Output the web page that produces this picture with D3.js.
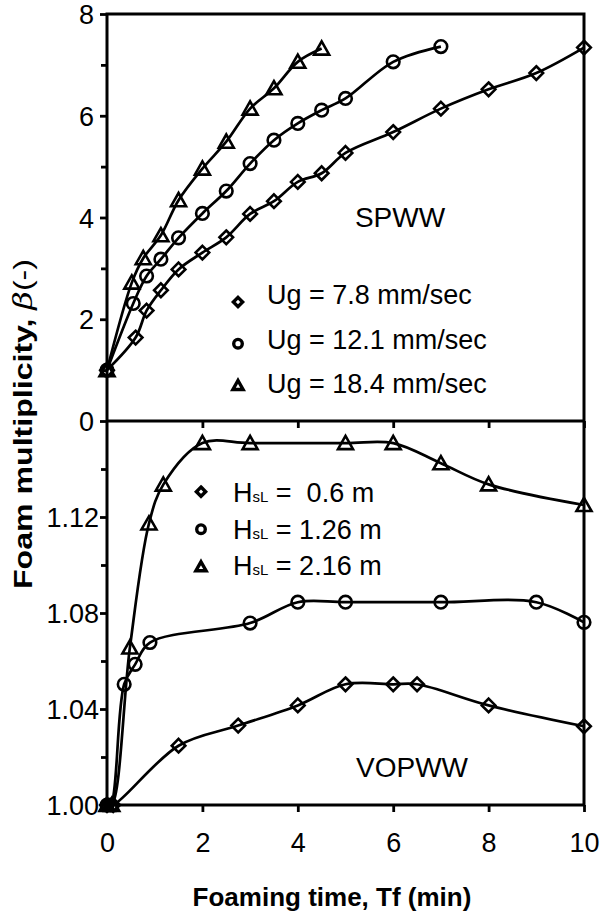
<!DOCTYPE html>
<html>
<head>
<meta charset="utf-8">
<script src="https://cdn.jsdelivr.net/npm/d3@7"></script>
<style>
body { margin: 0; background: #fff; }
svg text { font-family: "Liberation Sans", Arial, sans-serif; fill: #000; white-space: pre; }
.axe text { font-size: 27px; font-family: "Liberation Sans", Arial, sans-serif; }
.axe line { stroke: #000; stroke-width: 2.8; }
</style>
</head>
<body>
<div id="graphe"></div>
<script>
// données (panneau du haut : SPWW)
let tempsUg78 = [0, 0.6, 0.83, 1.13, 1.5, 2, 2.5, 3, 3.5, 4, 4.5, 5, 6, 7, 8, 9, 10];
let betaUg78 = [1.0, 1.64, 2.17, 2.57, 2.98, 3.31, 3.61, 4.07, 4.32, 4.70, 4.87, 5.27, 5.68, 6.14, 6.52, 6.84, 7.34];

let tempsUg121 = [0, 0.55, 0.83, 1.13, 1.5, 2, 2.5, 3, 3.5, 4, 4.5, 5, 6, 7];
let betaUg121 = [1.0, 2.31, 2.85, 3.18, 3.6, 4.08, 4.52, 5.06, 5.52, 5.85, 6.11, 6.34, 7.06, 7.36];

let tempsUg184 = [0, 0.52, 0.76, 1.13, 1.5, 2, 2.5, 3, 3.5, 4, 4.5];
let betaUg184 = [1.0, 2.72, 3.2, 3.65, 4.34, 4.96, 5.49, 6.14, 6.54, 7.06, 7.32];

// panneau du bas : VOPWW
let tempsH06 = [0, 0.13, 1.5, 2.75, 4, 5, 6, 6.5, 8, 10];
let betaH06 = [1.0, 1.0, 1.0247, 1.0331, 1.0415, 1.0503, 1.0503, 1.0503, 1.0415, 1.0328];

let tempsH126 = [0, 0.08, 0.36, 0.59, 0.9, 3, 4, 5, 7, 9, 10];
let betaH126 = [1.0, 1.0, 1.0503, 1.0586, 1.0677, 1.0758, 1.0845, 1.0845, 1.0845, 1.0845, 1.0761];

let tempsH216 = [0, 0.1, 0.48, 0.88, 1.18, 2, 3, 5, 6, 7, 8, 10];
let betaH216 = [1.0, 1.0, 1.0656, 1.1173, 1.1335, 1.1508, 1.1508, 1.1508, 1.1508, 1.1424, 1.1336, 1.125];

let ticksX = [0, 2, 4, 6, 8, 10];
let ticksHaut = [0, 2, 4, 6, 8];
let ticksHautMineurs = [1, 3, 5, 7];
let ticksBas = [1.00, 1.04, 1.08, 1.12];
let ticksBasMineurs = [1.02, 1.06, 1.10, 1.14];

let legendeHaut = ["Ug = 7.8 mm/sec", "Ug = 12.1 mm/sec", "Ug = 18.4 mm/sec"];
let legendeBas = [" =  0.6 m", " = 1.26 m", " = 2.16 m"];

// échelles
let x = d3.scaleLinear().domain([0, 10]).range([107, 584]);
let yHaut = d3.scaleLinear().domain([0, 8]).range([421, 14]);
let yBas = d3.scaleLinear().domain([1.0, 1.16]).range([805, 421]);

let svg = d3.select('#graphe')
    .append('svg')
    .attr("width", 601)
    .attr("height", 915)

function zipper(xs, ys) {
    return xs.map(function (t, i) { return [t, ys[i]] });
}

let series = [
    { pts: zipper(tempsUg78, betaUg78), forme: "losange", y: yHaut },
    { pts: zipper(tempsUg121, betaUg121), forme: "cercle", y: yHaut },
    { pts: zipper(tempsUg184, betaUg184), forme: "triangle", y: yHaut },
    { pts: zipper(tempsH06, betaH06), forme: "losange", y: yBas },
    { pts: zipper(tempsH126, betaH126), forme: "cercle", y: yBas },
    { pts: zipper(tempsH216, betaH216), forme: "triangle", y: yBas }
];

function marqueur(forme, k) {
    if (forme == "losange") {
        let s = 6.8 * k;
        return "M0," + (-s) + "L" + s + ",0L0," + s + "L" + (-s) + ",0Z";
    }
    if (forme == "cercle") {
        let r = 6.3 * k;
        return "M" + r + ",0A" + r + "," + r + " 0 1,1 " + (-r) + ",0A" + r + "," + r + " 0 1,1 " + r + ",0Z";
    }
    let w = 7.5 * k, h1 = 7.2 * k, h2 = 6 * k;
    return "M0," + (-h1) + "L" + w + "," + h2 + "L" + (-w) + "," + h2 + "Z";
}

// courbes lissées + marqueurs
series.forEach(function (s) {
    let ligne = d3.line()
        .x(function (d) { return x(d[0]) })
        .y(function (d) { return s.y(d[1]) })
        .curve(d3.curveCatmullRom.alpha(0.5));

    svg.append('path')
        .datum(s.pts)
        .attr("d", ligne)
        .attr("fill", "none")
        .attr("stroke", "#000")
        .attr("stroke-width", 2.7)

    svg.selectAll(null)
        .data(s.pts)
        .enter().append('path')
        .attr("d", marqueur(s.forme, 1))
        .attr("transform", function (d) { return "translate(" + x(d[0]) + "," + s.y(d[1]) + ")" })
        .attr("fill", "none")
        .attr("stroke", "#000")
        .attr("stroke-width", 2.6)
});

// axes
function sansDomaine(g) { g.select('.domain').remove(); }

svg.append('g').attr("class", "axe")
    .attr("transform", "translate(" + x(0) + ",0)")
    .call(d3.axisLeft(yHaut).tickValues(ticksHaut).tickSize(7).tickPadding(6).tickFormat(d3.format('d')))
    .call(sansDomaine)
svg.append('g').attr("class", "axe")
    .attr("transform", "translate(" + x(0) + ",0)")
    .call(d3.axisLeft(yHaut).tickValues(ticksHautMineurs).tickSize(6).tickFormat(""))
    .call(sansDomaine)
svg.append('g').attr("class", "axe")
    .attr("transform", "translate(" + x(0) + ",0)")
    .call(d3.axisLeft(yBas).tickValues(ticksBas).tickSize(7).tickPadding(1).tickFormat(d3.format('.2f')))
    .call(sansDomaine)
svg.append('g').attr("class", "axe")
    .attr("transform", "translate(" + x(0) + ",0)")
    .call(d3.axisLeft(yBas).tickValues(ticksBasMineurs).tickSize(6).tickFormat(""))
    .call(sansDomaine)
svg.append('g').attr("class", "axe axeX")
    .attr("transform", "translate(0," + yBas(1.0) + ")")
    .call(d3.axisBottom(x).tickValues(ticksX).tickSize(7).tickPadding(21).tickFormat(d3.format('d')))
    .call(sansDomaine)
svg.append('g').attr("class", "axe axeX")
    .attr("transform", "translate(0," + yHaut(0) + ")")
    .call(d3.axisBottom(x).tickValues(ticksX.slice(1)).tickSize(7).tickFormat(""))
    .call(sansDomaine)

svg.selectAll('.axe .tick text').attr("dy", "0.36em")
svg.selectAll('.axeX .tick text').attr("dy", "0.71em")

// cadre
svg.append('rect')
    .attr("x", x(0)).attr("y", yHaut(8))
    .attr("width", x(10) - x(0)).attr("height", yBas(1.0) - yHaut(8))
    .attr("fill", "none").attr("stroke", "#000").attr("stroke-width", 3)
svg.append('line')
    .attr("x1", x(0)).attr("x2", x(10)).attr("y1", yHaut(0)).attr("y2", yHaut(0))
    .attr("stroke", "#000").attr("stroke-width", 3)

// textes dans les panneaux
svg.append('text').attr("x", 400).attr("y", 227).attr("text-anchor", "middle")
    .attr("font-size", 28).text("SPWW")
svg.append('text').attr("x", 412).attr("y", 777).attr("text-anchor", "middle")
    .attr("font-size", 28).text("VOPWW")

// légende du haut
let formes = ["losange", "cercle", "triangle"];
let legH = svg.selectAll(null).data(legendeHaut).enter().append('g');
legH.append('path')
    .attr("d", function (d, i) { return marqueur(formes[i], 0.68) })
    .attr("transform", function (d, i) { return "translate(238," + (302 + i * 41.7) + ")" })
    .attr("fill", "none").attr("stroke", "#000").attr("stroke-width", 3.4)
legH.append('text')
    .attr("x", 267).attr("y", function (d, i) { return 304 + i * 44.6 })
    .attr("font-size", 27)
    .text(function (d) { return d })

// légende du bas
let legB = svg.selectAll(null).data(legendeBas).enter().append('g');
legB.append('path')
    .attr("d", function (d, i) { return marqueur(formes[i], 0.68) })
    .attr("transform", function (d, i) { return "translate(201," + (491.7 + i * 37.5) + ")" })
    .attr("fill", "none").attr("stroke", "#000").attr("stroke-width", 3.4)
let txtB = legB.append('text')
    .attr("x", 233).attr("y", function (d, i) { return 502 + i * 36.5 })
    .attr("font-size", 27)
txtB.append('tspan').text("H")
txtB.append('tspan').attr("font-size", 15).text("sL")
txtB.append('tspan').text(function (d) { return d })

// titres des axes
svg.append('text')
    .attr("x", 332).attr("y", 906).attr("text-anchor", "middle")
    .attr("font-size", 26).attr("font-weight", "bold")
    .text("Foaming time, Tf (min)")

let titreY = svg.append('text')
    .attr("transform", "translate(32,424) rotate(-90)")
    .attr("text-anchor", "middle")
    .attr("font-size", 26)
    .attr("textLength", 330).attr("lengthAdjust", "spacingAndGlyphs")
titreY.append('tspan').attr("font-weight", "bold").text("Foam multiplicity, ")
titreY.append('tspan').attr("font-style", "italic").attr("font-family", "DejaVu Serif, serif").text("β")
titreY.append('tspan').text("(-)")
</script>
</body>
</html>
